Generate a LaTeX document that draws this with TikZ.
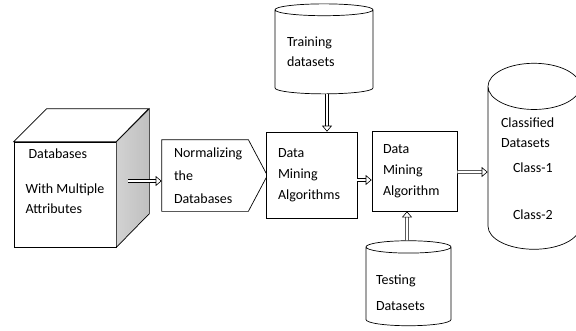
\documentclass[tikz,border=0pt]{standalone}
\usepackage{fontspec}
\setmainfont{Carlito}
\usepackage{tikz}
\usetikzlibrary{arrows.meta, positioning, shapes.geometric}

\begin{document}
\begin{tikzpicture}[
    x=1pt, y=-1pt,
    every node/.style = {font=\fontsize{14}{21}\selectfont, line width=0.7pt},
    box/.style     = {rectangle, draw, fill=white, align=left,
                      inner sep=0pt},
    drum/.style    = {cylinder, shape border rotate=90, draw, fill=white,
                      align=left, inner sep=0pt},
    face/.style    = {draw, line width=0.7pt, fill=white},
    side/.style    = {draw, line width=0.7pt, left color=gray!35, right color=gray!50},
    dbl/.style     = {draw, line width=0.6pt, double, double distance=2.6pt,
                      -{Triangle[open, length=6pt, width=10pt, line width=0.6pt]}}
]
\useasboundingbox (0,0) rectangle (576,330);

% ========= cube with the raw data =========
\node[box, minimum width=102pt, minimum height=105pt] (dbase) at (65,194.5)
    {\hspace*{3pt}Databases\\[14pt]With Multiple\\[-1pt]Attributes\rule[-27pt]{0pt}{0pt}};
\draw[face] (dbase.north west) -- ++(33,-33) -- ++(102,0) -- (dbase.north east) -- cycle;
\draw[side] (dbase.north east) -- ++(33,-33) -- ++(0,105) -- (dbase.south east) -- cycle;

% ========= processing chain =========
\node[box, draw=none, fill=none, minimum width=86pt, minimum height=71pt,
      text width=62pt, inner xsep=12pt] (norm) at (205,175.5)
    {Normalizing\\[2pt]the\\[2pt]Databases};
\draw[face, fill=none] (norm.north west) -- (norm.north east) -- ([xshift=19pt]norm.east)
    -- (norm.south east) -- (norm.south west) -- cycle;
\node[box, minimum width=91pt, minimum height=86pt, text width=67pt] (dmaa) at (311.5,175)
    {Data\\Mining\\Algorithms};
\node[box, minimum width=85pt, minimum height=80pt, text width=63pt] (dmab) at (414.5,171)
    {Data\\Mining\\Algorithm};

% ========= data stores =========
\node[drum, minimum width=98pt, minimum height=90pt, aspect=0.16, text width=74pt] (train) at (324,52)
    {Training\\[-1pt]datasets};
\node[drum, minimum width=85pt, minimum height=85pt, aspect=0.19, text width=65pt] (test) at (408.5,286.5)
    {\rule{0pt}{22pt}Testing\\[5pt]Datasets};
\node[drum, minimum width=92pt, minimum height=186pt, aspect=0.7, text width=66pt] (cls) at (534,168)
    {\rule{0pt}{12pt}Classified\\[-1pt]Datasets\\[4pt]\hspace*{12pt}Class-1\\[26pt]\hspace*{12pt}Class-2};

% ========= arrows =========
\draw[dbl] ([xshift=12pt,yshift=13.5pt]dbase.east) -- ([yshift=-5.5pt]norm.west);
\draw[dbl] ([xshift=3pt]train.south) -- ([xshift=15.5pt]dmaa.north);
\draw[dbl] ([yshift=-5pt]dmaa.east) -- ([yshift=-9pt]dmab.west);
\draw[dbl] ([xshift=-1.5pt]test.north) -- ([xshift=-7.5pt]dmab.south);
\draw[dbl] ([yshift=-1pt]dmab.east) -- ([yshift=-4pt]cls.west);
\end{tikzpicture}
\end{document}
